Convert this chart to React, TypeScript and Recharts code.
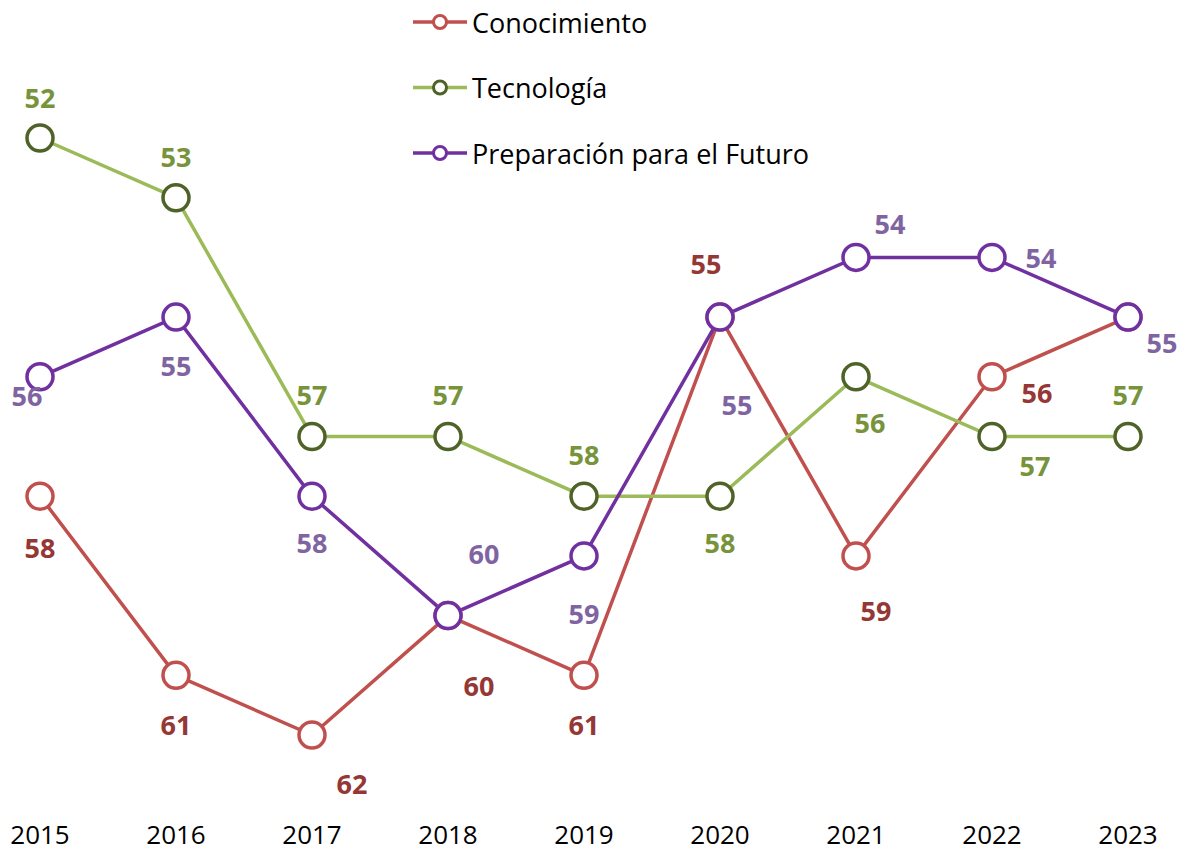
import React from "react";
import { LineChart, Line, XAxis, YAxis, LabelList } from "recharts";

const years = ["2015", "2016", "2017", "2018", "2019", "2020", "2021", "2022", "2023"];
const conocimiento = [58, 61, 62, 60, 61, 55, 59, 56, 55];
const tecnologia = [52, 53, 57, 57, 58, 58, 56, 57, 57];
const preparacion = [56, 55, 58, 60, 59, 55, 54, 54, 55];

// label placement per point (dx, dy from the marker), null = no label
const conLabelPos: ([number, number] | null)[] = [
  [0, 51], [0, 49], [40, 48], [31, 70], [0, 49], [-14, -54], [20, 55], [45, 16], null,
];
const tecLabelPos: [number, number][] = [
  [0, -41], [0, -41], [0, -42], [0, -42], [0, -42], [0, 46], [14, 46], [43, 29], [0, -42],
];
const preLabelPos: [number, number][] = [
  [-13, 19], [0, 48], [0, 46], [36, -62], [0, 58], [17, 87], [34, -34], [49, 0], [34, 25],
];

const data = years.map((year, i) => ({
  year,
  con: conocimiento[i],
  tec: tecnologia[i],
  pre: preparacion[i],
}));

const FONT = "'Open Sans', sans-serif";

const series = [
  { key: "con", name: "Conocimiento", line: "#C0504D", marker: "#C0504D", label: "#953735", pos: conLabelPos },
  { key: "tec", name: "Tecnología", line: "#9BBB59", marker: "#4F6228", label: "#77933C", pos: tecLabelPos },
  { key: "pre", name: "Preparación para el Futuro", line: "#7030A0", marker: "#7030A0", label: "#8064A2", pos: preLabelPos },
];

function makeLabel(color: string, pos: ([number, number] | null)[]) {
  return (props: any) => {
    const { x, y, value, index } = props;
    const p = pos[index];
    if (!p) return null;
    return (
      <text
        x={x + p[0]}
        y={y + p[1]}
        textAnchor="middle"
        dominantBaseline="central"
        fill={color}
        fontSize={27}
        fontWeight={700}
        fontFamily={FONT}
      >
        {value}
      </text>
    );
  };
}

function LegendBox() {
  return (
    <svg width={420} height={180} style={{ position: "absolute", top: 0, left: 413 }}>
      {series.map((s, i) => {
        const cy = 22 + i * 65.5;
        return (
          <g key={s.key}>
            <line x1={0} x2={54} y1={cy} y2={cy} stroke={s.line} strokeWidth={3.5} />
            <circle cx={27} cy={cy} r={6.5} fill="#fff" stroke={s.marker} strokeWidth={3} />
            <text x={59} y={cy} dominantBaseline="central" fontSize={27} fontFamily={FONT} fill="#000">
              {s.name}
            </text>
          </g>
        );
      })}
    </svg>
  );
}

export default function App() {
  return (
    <div style={{ width: 1189, height: 855, background: "#fff", position: "relative" }}>
      <style>{`body{margin:0}`}</style>
      <LineChart
        width={1189}
        height={855}
        data={data}
        margin={{ top: 138, right: 61, left: 40, bottom: 0 }}
        style={{ fontFamily: FONT }}
      >
        <XAxis
          dataKey="year"
          height={120}
          axisLine={false}
          tickLine={false}
          tickMargin={85}
          interval={0}
          tick={{ fontSize: 26, fill: "#000", fontFamily: FONT }}
        />
        <YAxis hide reversed domain={[52, 62]} />
        {series.map((s) => (
          <Line
            key={s.key}
            dataKey={s.key}
            name={s.name}
            stroke={s.line}
            strokeWidth={3.5}
            isAnimationActive={false}
            dot={{ r: 13, fill: "#fff", stroke: s.marker, strokeWidth: 3.5 }}
            activeDot={false}
          >
            <LabelList dataKey={s.key} content={makeLabel(s.label, s.pos)} />
          </Line>
        ))}
      </LineChart>
      <LegendBox />
    </div>
  );
}
